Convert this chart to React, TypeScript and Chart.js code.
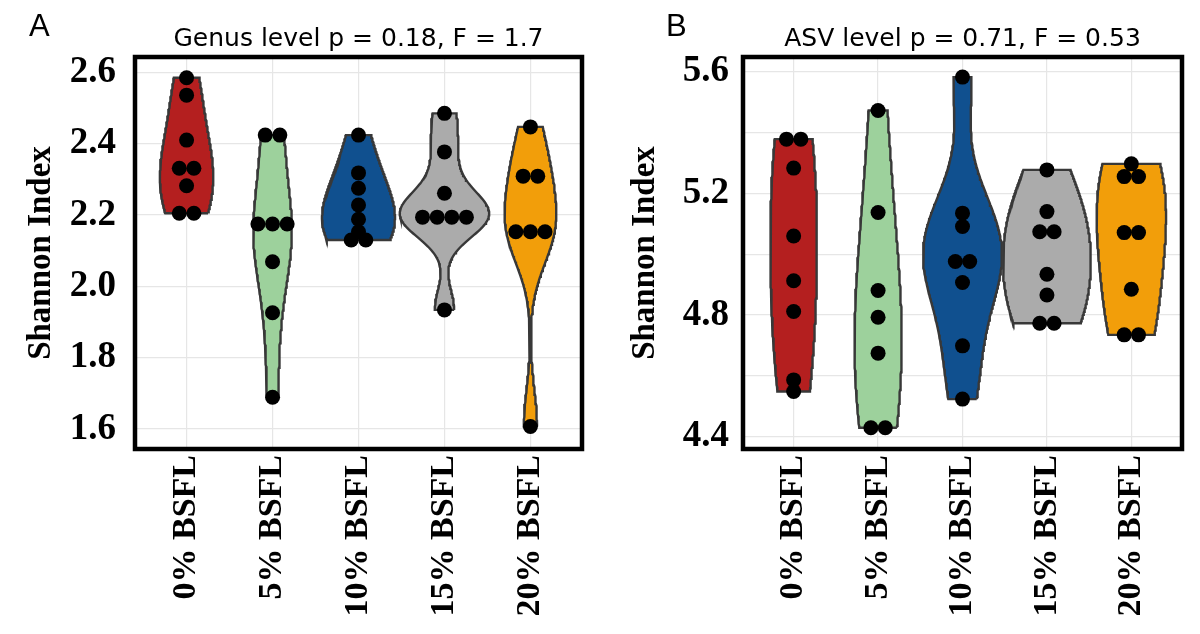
import React, { useEffect, useRef } from 'react';
import { Chart, registerables } from 'chart.js';

Chart.register(...registerables);

// ---------- data ----------
const CATEGORIES = ['0% BSFL', '5% BSFL', '10% BSFL', '15% BSFL', '20% BSFL'];
const COLORS = ['#B41F1F', '#9DD19C', '#10508F', '#ABABAB', '#F29E0A'];

// Panel A – Genus level Shannon index per group
const GENUS_0 = [2.585, 2.536, 2.41, 2.331, 2.331, 2.282, 2.205, 2.205];
const GENUS_5 = [2.424, 2.424, 2.175, 2.175, 2.175, 2.069, 1.926, 1.689];
const GENUS_10 = [2.424, 2.318, 2.275, 2.228, 2.188, 2.153, 2.13, 2.13];
const GENUS_15 = [2.485, 2.377, 2.261, 2.194, 2.194, 2.194, 2.194, 1.934];
const GENUS_20 = [2.447, 2.309, 2.309, 2.153, 2.153, 2.153, 1.607];

// Panel B – ASV level Shannon index per group
const ASV_0 = [5.378, 5.378, 5.283, 5.06, 4.913, 4.812, 4.587, 4.549];
const ASV_5 = [5.472, 5.137, 4.881, 4.793, 4.675, 4.43, 4.43];
const ASV_10 = [5.582, 5.135, 5.091, 4.976, 4.976, 4.907, 4.699, 4.524];
const ASV_15 = [5.277, 5.14, 5.074, 5.074, 4.934, 4.866, 4.773, 4.773];
const ASV_20 = [5.297, 5.255, 5.255, 5.071, 5.071, 4.885, 4.735, 4.735];

const GENUS_TICKS = [1.6, 1.8, 2.0, 2.2, 2.4, 2.6];
const GENUS_MINOR = [1.7, 1.9, 2.1, 2.3, 2.5];
const ASV_TICKS = [4.4, 4.8, 5.2, 5.6];
const ASV_MINOR = [4.6, 5.0, 5.4];

const GENUS_TITLE = 'Genus level p = 0.18, F = 1.7';
const ASV_TITLE = 'ASV level p = 0.71, F = 0.53';
const Y_TITLE = 'Shannon Index';

// ---------- violin helpers (kernel density, like ggplot's geom_violin) ----------
const VIOLIN_HALF = 0.52;
const BW_ADJUST = 1.45;
const DOT_GAP = 0.17;
const DOT_RADIUS = 7.5;

function bwNrd0(x: number[]): number {
  const n = x.length;
  const mean = x.reduce((a, b) => a + b, 0) / n;
  const sd = Math.sqrt(x.reduce((a, b) => a + (b - mean) ** 2, 0) / (n - 1));
  const s = [...x].sort((a, b) => a - b);
  const q = (p: number) => {
    const h = (n - 1) * p;
    const lo = Math.floor(h);
    const hi = Math.ceil(h);
    return s[lo] + (h - lo) * (s[hi] - s[lo]);
  };
  const iqr = q(0.75) - q(0.25);
  let lo = Math.min(sd, iqr / 1.34);
  if (!(lo > 0)) lo = sd || 1;
  return 0.9 * lo * Math.pow(n, -0.2);
}

function kde(x: number[], bw: number, t: number): number {
  let s = 0;
  for (const xi of x) {
    const z = (t - xi) / bw;
    s += Math.exp(-0.5 * z * z);
  }
  return s / (Math.sqrt(2 * Math.PI) * bw * x.length);
}

function violinDatasets(groups: number[][]) {
  const N = 160;
  const curves = groups.map((g) => {
    const bw = bwNrd0(g) * BW_ADJUST;
    const lo = Math.min(...g);
    const hi = Math.max(...g);
    const out: { y: number; d: number }[] = [];
    for (let k = 0; k <= N; k++) {
      const y = lo + ((hi - lo) * k) / N;
      out.push({ y, d: kde(g, bw, y) });
    }
    return out;
  });
  let maxD = 0;
  curves.forEach((c) => c.forEach((p) => (maxD = Math.max(maxD, p.d))));
  return curves.map((c, i) => {
    const cx = i + 1;
    const right = c.map((p) => ({ x: cx + (VIOLIN_HALF * p.d) / maxD, y: p.y }));
    const left = c
      .slice()
      .reverse()
      .map((p) => ({ x: cx - (VIOLIN_HALF * p.d) / maxD, y: p.y }));
    return {
      type: 'line' as const,
      data: [...right, ...left, right[0]],
      fill: 'shape',
      backgroundColor: COLORS[i],
      borderColor: '#383838',
      borderWidth: 2.4,
      pointRadius: 0,
      tension: 0,
      order: 2,
    };
  });
}

function dotData(groups: number[][]) {
  const pts: { x: number; y: number }[] = [];
  groups.forEach((g, i) => {
    const counts = new Map<number, number>();
    g.forEach((v) => counts.set(v, (counts.get(v) || 0) + 1));
    counts.forEach((n, v) => {
      for (let j = 0; j < n; j++) pts.push({ x: i + 1 + (j - (n - 1) / 2) * DOT_GAP, y: v });
    });
  });
  return pts;
}

const panelPlugin = {
  id: 'panelDecor',
  afterDatasetsDraw(chart: any) {
    const { ctx, chartArea: a } = chart;
    ctx.save();
    ctx.strokeStyle = '#000';
    ctx.lineWidth = 4.5;
    ctx.strokeRect(a.left, a.top, a.right - a.left, a.bottom - a.top);
    ctx.restore();
  },
  afterDraw(chart: any, _args: any, opts: any) {
    if (!opts || !opts.text) return;
    const { ctx } = chart;
    ctx.save();
    ctx.fillStyle = '#000';
    ctx.font = '31px "Liberation Sans", Arial, sans-serif';
    ctx.textBaseline = 'alphabetic';
    ctx.textAlign = 'left';
    ctx.fillText(opts.text, opts.x, opts.y);
    ctx.restore();
  },
};

interface PanelProps {
  left: number;
  letter: string;
  letterX: number;
  title: string;
  groups: number[][];
  ticks: number[];
  minor: number[];
  yMin: number;
  yMax: number;
  yWidth: number;
  tickPad: number;
  yTitlePad: number;
}

function Panel(p: PanelProps) {
  const ref = useRef<HTMLCanvasElement | null>(null);
  useEffect(() => {
    if (!ref.current) return;
    const allTicks = [...p.ticks, ...p.minor].sort((a, b) => a - b);
    const chart = new Chart(ref.current, {
      type: 'line',
      data: {
        datasets: [
          {
            type: 'scatter',
            data: dotData(p.groups),
            backgroundColor: '#000',
            borderWidth: 0,
            pointRadius: DOT_RADIUS,
            order: 0,
          } as any,
          ...(violinDatasets(p.groups) as any[]),
        ],
      },
      options: {
        animation: false,
        responsive: false,
        devicePixelRatio: 1,
        events: [],
        layout: { padding: { left: 0, right: 18, top: 0, bottom: 0 } },
        plugins: {
          legend: { display: false },
          tooltip: { enabled: false },
          title: {
            display: true,
            text: p.title,
            fullSize: false,
            color: '#000',
            font: { family: '"DejaVu Sans", Verdana, sans-serif', size: 25, weight: 'normal', lineHeight: 1.2 },
            padding: { top: 24.5, bottom: 2.5 },
          },
          panelDecor: { text: p.letter, x: p.letterX, y: 36 },
        } as any,
        scales: {
          x: {
            type: 'linear',
            min: 0.4,
            max: 5.6,
            afterBuildTicks: (s: any) => {
              s.ticks = CATEGORIES.map((_, i) => ({ value: i + 1 }));
            },
            afterFit: (s: any) => {
              s.height = 185;
            },
            ticks: {
              callback: (v: any) => CATEGORIES[Math.round(Number(v)) - 1] ?? '',
              minRotation: 90,
              maxRotation: 90,
              autoSkip: false,
              padding: 6,
              color: '#000',
              font: { family: '"Liberation Serif", "Times New Roman", serif', size: 34, weight: 'bold' },
            },
            grid: { color: '#E6E6E6', lineWidth: 1.2, drawTicks: false },
            border: { display: false },
          },
          y: {
            type: 'linear',
            min: p.yMin,
            max: p.yMax,
            afterBuildTicks: (s: any) => {
              s.ticks = allTicks.map((v) => ({ value: v }));
            },
            afterFit: (s: any) => {
              s.width = p.yWidth;
            },
            ticks: {
              callback: (v: any) => (p.ticks.some((t) => Math.abs(t - Number(v)) < 1e-6) ? Number(v).toFixed(1) : ''),
              padding: p.tickPad,
              color: '#000',
              font: { family: '"Liberation Serif", "Times New Roman", serif', size: 37, weight: 'bold' },
            },
            grid: { color: '#E6E6E6', lineWidth: 1.2, drawTicks: false },
            border: { display: false },
            title: {
              display: true,
              text: Y_TITLE,
              color: '#000',
              font: { family: '"Liberation Serif", "Times New Roman", serif', size: 33, weight: 'bold', lineHeight: 1.2 },
              padding: { top: p.yTitlePad, bottom: 0 },
            },
          },
        },
      } as any,
      plugins: [panelPlugin as any],
    });
    return () => chart.destroy();
  }, []);
  return (
    <canvas
      ref={ref}
      width={600}
      height={634}
      style={{ position: 'absolute', left: p.left, top: 0, width: 600, height: 634 }}
    />
  );
}

export default function App() {
  return (
    <div style={{ position: 'absolute', left: 0, top: 0, width: 1200, height: 634, background: '#fff', overflow: 'hidden' }}>
      <Panel
        left={0}
        letter="A"
        letterX={29}
        title={GENUS_TITLE}
        groups={[GENUS_0, GENUS_5, GENUS_10, GENUS_15, GENUS_20]}
        ticks={GENUS_TICKS}
        minor={GENUS_MINOR}
        yMin={1.544}
        yMax={2.643}
        yWidth={135}
        tickPad={19}
        yTitlePad={22}
      />
      <Panel
        left={600}
        letter="B"
        letterX={66}
        title={ASV_TITLE}
        groups={[ASV_0, ASV_5, ASV_10, ASV_15, ASV_20]}
        ticks={ASV_TICKS}
        minor={ASV_MINOR}
        yMin={4.36}
        yMax={5.648}
        yWidth={143}
        tickPad={14}
        yTitlePad={26}
      />
    </div>
  );
}
